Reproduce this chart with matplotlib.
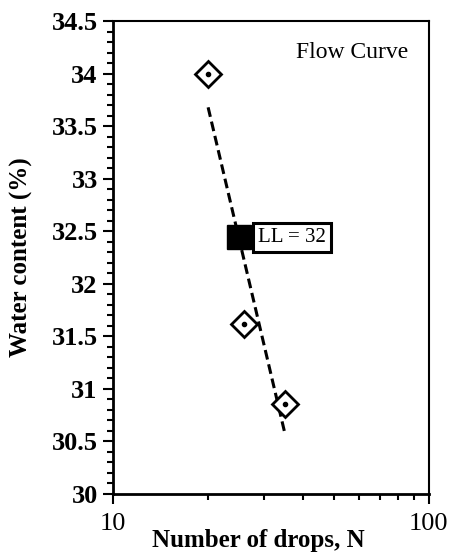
import numpy as np
import matplotlib
matplotlib.use('Agg')
import matplotlib.pyplot as plt
from matplotlib.ticker import MultipleLocator, LogLocator, NullFormatter, FixedLocator

plt.rcParams['font.family'] = ['Liberation Serif', 'DejaVu Serif']

# liquid limit test results
drops = [20, 26, 35]
water = [34.0, 31.62, 30.86]
N_LL = 25

# flow curve: w = a*log10(N) + b
a, b = np.polyfit(np.log10(drops), water, 1)
n_fit = np.array([min(drops), max(drops)])
w_fit = a * np.log10(n_fit) + b
ll = a * np.log10(N_LL) + b

fig = plt.figure(figsize=(4.51, 5.56), dpi=100)
ax = fig.add_axes([0.2506, 0.1115, 0.7004, 0.8507])

ax.plot(n_fit, w_fit, color='black', lw=2.2, ls=(0, (3.2, 1.6)), zorder=2)
ax.plot(drops, water, ls='none', marker='D', ms=13.5, mfc='white', mec='black', mew=2, zorder=3)
ax.plot(drops, water, ls='none', marker='o', ms=3, color='black', zorder=4)
ax.plot([N_LL], [ll], ls='none', marker='s', ms=17, color='black', zorder=5)

ax.annotate(f'LL = {round(ll)}', xy=(N_LL, ll), xytext=(14, 0), textcoords='offset points',
            ha='left', va='center', fontsize=15,
            bbox=dict(boxstyle='square,pad=0.25', fc='white', ec='black', lw=2.2))

ax.text(0.935, 0.934, 'Flow Curve', transform=ax.transAxes, ha='right', va='center', fontsize=17)

ax.set_xscale('log')
ax.set_xlim(10, 100)
ax.set_ylim(30, 34.5)
ax.xaxis.set_major_locator(FixedLocator([10, 100]))
ax.xaxis.set_major_formatter(plt.FuncFormatter(lambda v, p: f'{v:g}'))
ax.xaxis.set_minor_locator(LogLocator(base=10, subs=np.arange(2, 10)))
ax.xaxis.set_minor_formatter(NullFormatter())
ax.yaxis.set_major_locator(MultipleLocator(0.5))
ax.yaxis.set_minor_locator(MultipleLocator(0.1))
ax.yaxis.set_major_formatter(plt.FuncFormatter(lambda v, p: f'{v:g}'))

ax.tick_params(which='both', direction='out', width=1.5, top=False, right=False)
ax.tick_params(which='major', length=7)
ax.tick_params(which='minor', length=4)
ax.tick_params(axis='y', labelsize=19, pad=4)
ax.tick_params(axis='x', labelsize=19, pad=7)
for lbl in ax.get_yticklabels():
    lbl.set_fontweight('bold')

for side in ['left', 'bottom']:
    ax.spines[side].set_linewidth(2)
for side in ['top', 'right']:
    ax.spines[side].set_linewidth(1.5)

ax.set_xlabel('Number of drops, N', fontsize=18, fontweight='bold')
ax.set_ylabel('Water content (%)', fontsize=18, fontweight='bold')
ax.xaxis.set_label_coords(0.459, -0.074)
ax.yaxis.set_label_coords(-0.253, 0.5)

fig.savefig('out.png', dpi=100)
